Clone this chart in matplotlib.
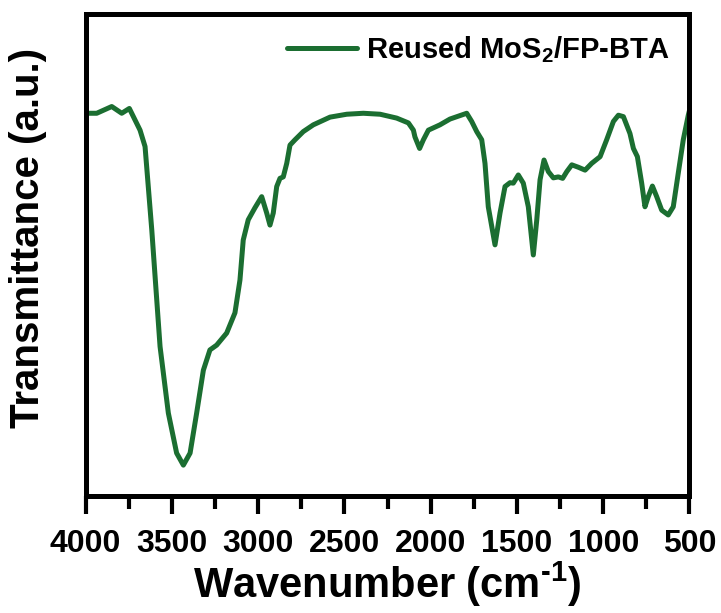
import matplotlib.pyplot as plt
from matplotlib.ticker import MultipleLocator

plt.rcParams['font.family'] = ['Liberation Sans', 'DejaVu Sans']
plt.rcParams['font.weight'] = 'bold'
plt.rcParams['axes.labelweight'] = 'bold'
plt.rcParams['mathtext.fontset'] = 'custom'
plt.rcParams['mathtext.rm'] = 'Liberation Sans:bold'
plt.rcParams['mathtext.bf'] = 'Liberation Sans:bold'
plt.rcParams['mathtext.default'] = 'bf'

# FTIR spectrum of the reused catalyst (wavenumber in cm-1, transmittance in a.u.)
wavenumber = [4000, 3935, 3848, 3790, 3746, 3684, 3655, 3616, 3568, 3520,
              3472, 3433, 3394, 3356, 3317, 3279, 3240, 3182, 3134, 3105,
              3086, 3057, 3018, 2979, 2950, 2931, 2912, 2892, 2873, 2854,
              2834, 2815, 2786, 2738, 2680, 2583, 2486, 2390, 2293, 2197,
              2129, 2100, 2091, 2064, 2042, 2013, 1946, 1888, 1791, 1762,
              1733, 1704, 1685, 1666, 1627, 1598, 1569, 1540, 1521, 1492,
              1463, 1434, 1405, 1385, 1366, 1343, 1318, 1289, 1260, 1235,
              1211, 1182, 1144, 1105, 1067, 1018, 980, 941, 912, 883,
              845, 825, 802, 777, 758, 739, 715, 690, 661, 623,
              594, 565, 536, 507, 500]
transmittance = [79.4, 79.4, 80.8, 79.4, 80.4, 75.9, 72.5, 55.2, 31.0, 17.2,
                 8.9, 6.4, 8.9, 17.2, 26.1, 30.3, 31.3, 33.8, 38.0, 44.8,
                 53.1, 57.3, 59.8, 62.1, 58.7, 56.2, 58.7, 64.2, 65.9, 66.2,
                 69.0, 72.8, 73.9, 75.6, 77.0, 78.6, 79.2, 79.4, 79.2, 78.4,
                 77.4, 75.9, 74.5, 72.1, 73.9, 75.9, 77.0, 78.2, 79.4, 77.7,
                 75.6, 73.9, 69.0, 60.0, 52.1, 58.7, 64.2, 65.0, 64.9, 66.6,
                 64.9, 60.0, 50.0, 57.3, 65.6, 69.7, 67.3, 66.0, 66.2, 65.9,
                 67.3, 68.7, 68.2, 67.6, 69.0, 70.4, 73.9, 77.7, 79.0, 78.7,
                 75.2, 72.1, 70.4, 64.9, 60.0, 62.1, 64.3, 62.1, 59.3, 58.3,
                 60.0, 67.0, 73.9, 79.0, 80.0]

fig = plt.figure(figsize=(7.21, 6.13), dpi=100)
ax = fig.add_axes([0.1186, 0.1909, 0.8377, 0.7863])

ax.plot(wavenumber, transmittance, color='#1b6e31', lw=3.6,
        solid_joinstyle='round', solid_capstyle='round',
        label='Reused MoS$_2$/FP-BTA')

ax.set_xlim(4000, 500)
ax.set_ylim(0, 100)
ax.set_yticks([])
ax.xaxis.set_major_locator(MultipleLocator(500))
ax.xaxis.set_minor_locator(MultipleLocator(250))
ax.tick_params(axis='x', which='major', direction='out', length=13, width=3,
               labelsize=23, pad=11)
ax.tick_params(axis='x', which='minor', direction='out', length=9, width=3)
for s in ax.spines.values():
    s.set_linewidth(3.6)

ax.set_xlabel('Wavenumber (cm$^{\\text{-1}}$)', fontsize=30, labelpad=0)
ax.set_ylabel('Transmittance (a.u.)', fontsize=29)
ax.yaxis.set_label_coords(-0.064, 0.535)

ax.legend(loc='upper right', frameon=False, fontsize=21, handlelength=2.4,
          handletextpad=0.3, borderaxespad=0.3)

plt.savefig('out.png', dpi=100)
plt.close()
